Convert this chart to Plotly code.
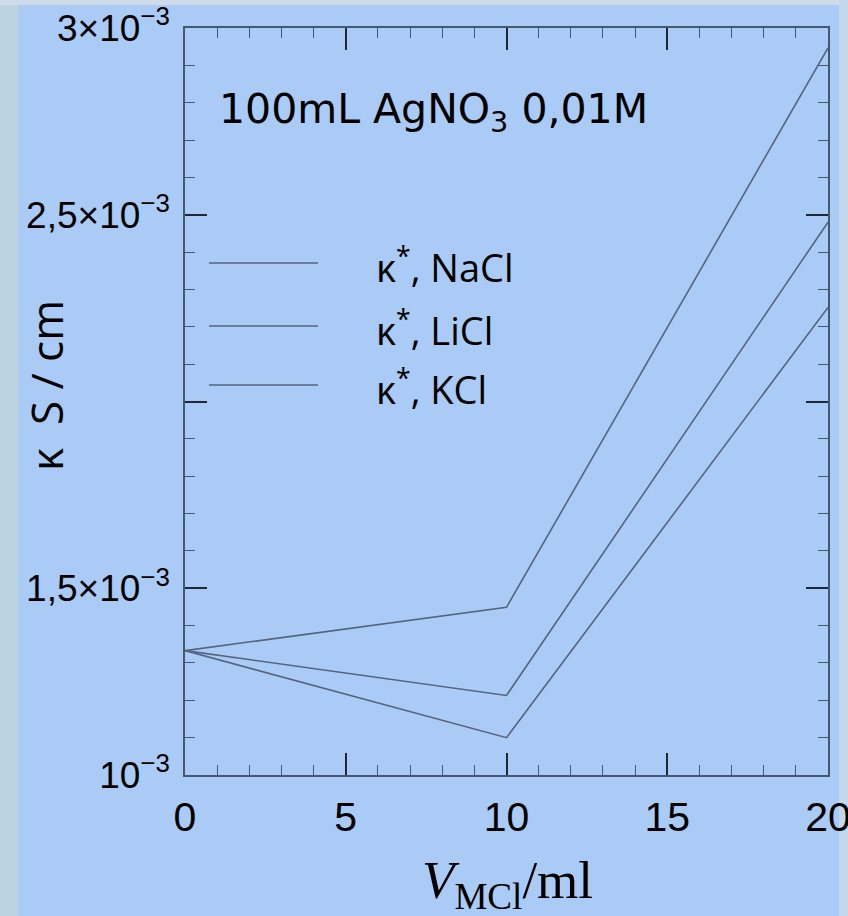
import plotly.graph_objects as go

# ---- data ----
v_ml = [0, 10, 20]
kappa_nacl = [1.333e-3, 1.213e-3, 2.480e-3]
kappa_licl = [1.333e-3, 1.100e-3, 2.252e-3]
kappa_kcl = [1.333e-3, 1.449e-3, 2.947e-3]
series_names = ["κ<sup>*</sup>, NaCl", "κ<sup>*</sup>, LiCl", "κ<sup>*</sup>, KCl"]
x_ticks = [0, 5, 10, 15, 20]
y_ticks = [1e-3, 1.5e-3, 2e-3, 2.5e-3, 3e-3]
y_ticktext = ["10<sup>−3</sup>", "1,5×10<sup>−3</sup>", "", "2,5×10<sup>−3</sup>", "3×10<sup>−3</sup>"]

W, H = 848, 916
L, R, T, B = 185, 20, 28, 141
PW, PH = W - L - R, H - T - B


def px(xp):
    return (xp - L) / PW


def py(yp):
    return (H - B - yp) / PH


BG = "rgb(171,203,247)"
LINE = "rgb(85,100,126)"
AX = "rgb(70,88,112)"
TK = "rgb(30,40,55)"

fig = go.Figure()
for ys in (kappa_nacl, kappa_licl, kappa_kcl):
    fig.add_trace(go.Scatter(x=v_ml, y=ys, mode="lines",
                             line=dict(color=LINE, width=1.6),
                             showlegend=False, hoverinfo="skip"))

shapes = []
annotations = []

# textured frame edges approximated with flat strips
shapes.append(dict(type="rect", xref="paper", yref="paper", x0=px(0), x1=px(18), y0=py(H), y1=py(0),
                   fillcolor="rgb(188,212,226)", line=dict(width=0), layer="below"))
shapes.append(dict(type="rect", xref="paper", yref="paper", x0=px(0), x1=px(W), y0=py(5), y1=py(0),
                   fillcolor="rgb(205,220,232)", line=dict(width=0), layer="below"))
shapes.append(dict(type="rect", xref="paper", yref="paper", x0=px(839), x1=px(W), y0=py(H), y1=py(0),
                   fillcolor="rgb(196,216,236)", line=dict(width=0), layer="below"))

# manual legend
leg_y = [263, 326, 385]
for name, yy in zip(series_names, leg_y):
    shapes.append(dict(type="line", xref="paper", yref="paper", x0=px(209), x1=px(318),
                       y0=py(yy), y1=py(yy), line=dict(color=LINE, width=1.6)))
    annotations.append(dict(xref="paper", yref="paper", x=px(374), y=py(yy + 2), text=name,
                            showarrow=False, xanchor="left", yanchor="middle",
                            font=dict(family="Open Sans", size=38, color="black")))

annotations.append(dict(xref="paper", yref="paper", x=px(217), y=py(112),
                        text="100mL AgNO<sub>3</sub> 0,01M", showarrow=False,
                        xanchor="left", yanchor="middle",
                        font=dict(family="DejaVu Sans", size=41, color="black")))
annotations.append(dict(xref="paper", yref="paper", x=px(46), y=py(386),
                        text="κ  S / cm", showarrow=False, textangle=-90,
                        xanchor="center", yanchor="middle",
                        font=dict(family="Open Sans", size=44, color="black")))
annotations.append(dict(xref="paper", yref="paper", x=px(507), y=py(884),
                        text="<i>V</i><sub>MCl</sub>/ml", showarrow=False,
                        xanchor="center", yanchor="middle",
                        font=dict(family="Liberation Serif", size=53, color="black")))

fig.update_layout(
    width=W, height=H,
    margin=dict(l=L, r=R, t=T, b=B, pad=0, autoexpand=False),
    paper_bgcolor=BG, plot_bgcolor=BG,
    shapes=shapes, annotations=annotations,
    xaxis=dict(range=[0, 20], tickmode="array", tickvals=x_ticks,
               ticktext=[str(v) for v in x_ticks], ticklabeloverflow="allow",
               automargin=False,
               showgrid=False, zeroline=False, showline=True, linecolor=AX, linewidth=1.5,
               mirror="allticks", ticks="inside", ticklen=22, tickwidth=2, tickcolor=TK,
               ticklabelstandoff=5,
               tickfont=dict(family="Liberation Sans", size=41, color="black"),
               minor=dict(tickmode="linear", tick0=0, dtick=1, ticks="inside",
                          ticklen=10, tickwidth=1, tickcolor=AX)),
    yaxis=dict(range=[1e-3, 3e-3], tickmode="array", tickvals=y_ticks, ticktext=y_ticktext,
               ticklabeloverflow="allow", automargin=False,
               showgrid=False, zeroline=False, showline=True, linecolor=AX, linewidth=1.5,
               mirror="allticks", ticks="inside", ticklen=22, tickwidth=2, tickcolor=TK,
               ticklabelstandoff=6,
               tickfont=dict(family="Liberation Sans", size=37, color="black"),
               minor=dict(tickmode="linear", tick0=1e-3, dtick=1e-4, ticks="inside",
                          ticklen=10, tickwidth=1, tickcolor=AX)),
)

fig.write_html("out.html")
